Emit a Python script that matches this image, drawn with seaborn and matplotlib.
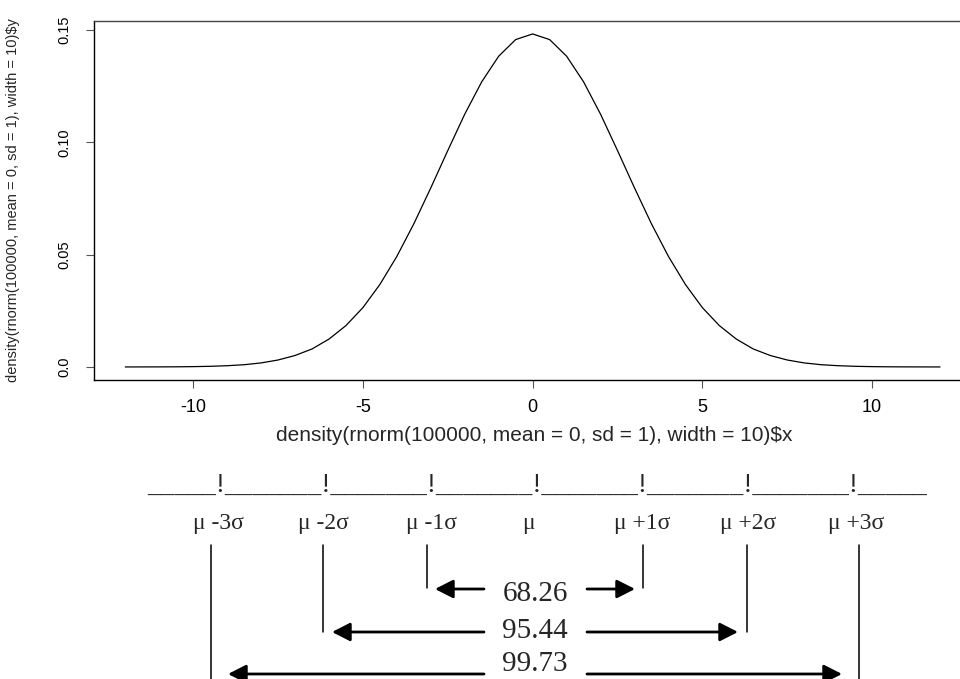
import matplotlib
matplotlib.use("Agg")
import matplotlib.pyplot as plt
import matplotlib.transforms as mtransforms
from matplotlib.patches import FancyArrowPatch
from matplotlib.lines import Line2D
import seaborn as sns
import pandas as pd

# ---------------- data ----------------
x_vals = [-12.0, -11.5, -11.0, -10.5, -10.0, -9.5, -9.0, -8.5, -8.0, -7.5, -7.0, -6.5,
          -6.0, -5.5, -5.0, -4.5, -4.0, -3.5, -3.0, -2.5, -2.0, -1.5, -1.0, -0.5,
          0.0, 0.5, 1.0, 1.5, 2.0, 2.5, 3.0, 3.5, 4.0, 4.5, 5.0, 5.5,
          6.0, 6.5, 7.0, 7.5, 8.0, 8.5, 9.0, 9.5, 10.0, 10.5, 11.0, 11.5, 12.0]
density_vals = [0.00001, 0.00002, 0.00004, 0.00007, 0.00015, 0.00029, 0.00056, 0.0010,
                0.0018, 0.0031, 0.0051, 0.0080, 0.0124, 0.0184, 0.0264, 0.0367,
                0.0492, 0.0637, 0.0797, 0.0963, 0.1125, 0.1269, 0.1383, 0.1457,
                0.1482,
                0.1457, 0.1383, 0.1269, 0.1125, 0.0963, 0.0797, 0.0637, 0.0492,
                0.0367, 0.0264, 0.0184, 0.0124, 0.0080, 0.0051, 0.0031, 0.0018,
                0.0010, 0.00056, 0.00029, 0.00015, 0.00007, 0.00004, 0.00002, 0.00001]
x_ticks = [-10, -5, 0, 5, 10]
x_tick_labels = ["-10", "-5", "0", "5", "10"]
y_ticks = [0.0, 0.05, 0.10, 0.15]
y_tick_labels = ["0.0", "0.05", "0.10", "0.15"]
x_label = "density(rnorm(100000, mean = 0, sd = 1), width = 10)$x"
y_label = "density(rnorm(100000, mean = 0, sd = 1), width = 10)$y"

sigma_labels = ["\u03bc -3\u03c3", "\u03bc -2\u03c3", "\u03bc -1\u03c3", "\u03bc",
                "\u03bc +1\u03c3", "\u03bc +2\u03c3", "\u03bc +3\u03c3"]
ruler_text = "_____!_______!_______!_______!_______!_______!_______!_____"
percent_labels = ["68.26", "95.44", "99.73"]

df = pd.DataFrame({"x": x_vals, "y": density_vals})

# ---------------- style ----------------
sns.set_style("ticks")
plt.rcParams["font.family"] = ["Liberation Sans", "DejaVu Sans"]

W, H = 960, 679
fig = plt.figure(figsize=(W / 100, H / 100), dpi=100)

# axes in pixel layout (right edge cropped beyond figure like the reference)
ax_left, ax_right, ax_top, ax_bottom = 94, 974, 20.7, 380
ax = fig.add_axes([ax_left / W, 1 - ax_bottom / H,
                   (ax_right - ax_left) / W, (ax_bottom - ax_top) / H])

sns.lineplot(data=df, x="x", y="y", ax=ax, color="black", linewidth=0.9)

ax.set_xlim(-12.92, 13.0)
ax.set_ylim(-0.0058, 0.1541)
ax.set_xticks(x_ticks)
ax.set_xticklabels(x_tick_labels, fontsize=13)
ax.set_yticks(y_ticks)
ax.set_yticklabels(y_tick_labels, fontsize=10.5, rotation=90, va="center")
ax.tick_params(axis="both", direction="out", length=6, width=0.8, color="#555555",
               labelcolor="black")
ax.tick_params(axis="x", pad=8)
ax.tick_params(axis="y", pad=10)
ax.set_xlabel(x_label, fontsize=15, labelpad=7)
ax.set_ylabel(y_label, fontsize=10.5, labelpad=27)
for s in ["left", "top", "bottom", "right"]:
    ax.spines[s].set_linewidth(1.0)
    ax.spines[s].set_color("black")
ax.spines["top"].set_color("#444444")

# ---------------- lower sigma diagram (pixel layout) ----------------
pix = mtransforms.Affine2D().scale(1 / W, -1 / H).translate(0, 1) + fig.transFigure
serif = ["Liberation Serif", "DejaVu Serif"]

fig.text(147, 492, ruler_text, transform=pix, fontsize=20, family=serif,
         ha="left", va="baseline")

label_x = [218, 323, 431, 528, 642, 748, 856]
for lx, lab in zip(label_x, sigma_labels):
    fig.text(lx, 529, lab, transform=pix, fontsize=17, family=serif,
             ha="center", va="baseline")

# vertical guide lines
vline_x = [211, 323, 427, 643, 747, 859]
vline_bottom = [679, 632, 588, 588, 632, 679]
for vx, vb in zip(vline_x, vline_bottom):
    fig.add_artist(Line2D([vx, vx], [545, vb], transform=pix, color="black", lw=1.1))

# arrows
rows_y = [589, 632, 674]
left_tips = [435, 332, 228]
right_tips = [635, 738, 842]
text_y = [601, 638, 671]
for ry, lt, rt, ty, lab in zip(rows_y, left_tips, right_tips, text_y, percent_labels):
    for x0, x1 in [(484, lt), (587, rt)]:
        arr = FancyArrowPatch((x0, ry), (x1, ry), transform=pix,
                              arrowstyle="-|>,head_length=0.55,head_width=0.28",
                              mutation_scale=20, lw=2.0, color="black",
                              shrinkA=0, shrinkB=0)
        fig.add_artist(arr)
    fig.text(535, ty, lab, transform=pix, fontsize=21, family=serif,
             ha="center", va="baseline")

fig.savefig("out.png", dpi=100)
